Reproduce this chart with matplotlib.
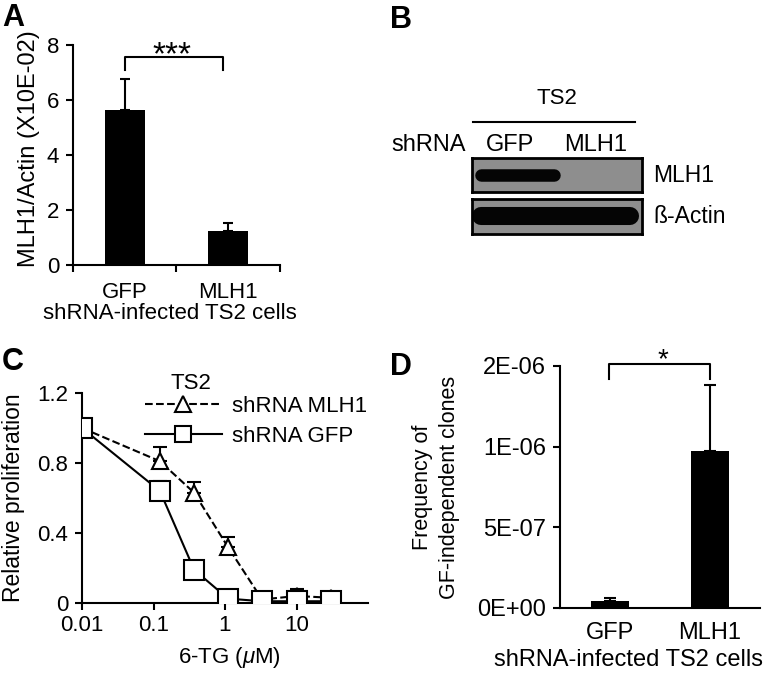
import numpy as np
import matplotlib
matplotlib.use("Agg")
import matplotlib.pyplot as plt
from matplotlib.lines import Line2D

plt.rcParams["font.family"] = ["Liberation Sans", "DejaVu Sans"]
plt.rcParams["mathtext.fontset"] = "custom"
plt.rcParams["mathtext.it"] = "Liberation Sans:italic"
plt.rcParams["mathtext.rm"] = "Liberation Sans"
plt.rcParams["axes.linewidth"] = 1.5
plt.rcParams["xtick.major.width"] = 1.5
plt.rcParams["ytick.major.width"] = 1.5
plt.rcParams["xtick.minor.width"] = 1.5

# ---- data ----
groups = ["GFP", "MLH1"]
a_ratio = [5.65, 1.25]          # MLH1/Actin (x10E-02)
a_err = [1.1, 0.28]

blot_lanes = ["GFP", "MLH1"]
blot_proteins = ["MLH1", "ß-Actin"]
blot_signal = [[1, 0], [1, 1]]   # band present per protein x lane

c_dose = [0.01, 0.123, 0.37, 1.1, 3.3, 10, 30]
c_mlh1 = [1.0, 0.81, 0.63, 0.32, 0.02, 0.04, 0.03]
c_mlh1_err = [0, 0.08, 0.06, 0.06, 0, 0.04, 0.03]
c_gfp = [1.0, 0.64, 0.19, 0.025, 0.01, 0.01, 0.01]
c_gfp_err = [0, 0.06, 0, 0, 0, 0, 0]

d_freq = [4.5e-8, 9.75e-7]
d_err = [1.5e-8, 4.1e-7]
d_ticks = [0, 5e-7, 1e-6, 1.5e-6]
d_ticklabels = ["0E+00", "5E-07", "1E-06", "2E-06"]

W, H = 774, 673
fig = plt.figure(figsize=(W / 100, H / 100), dpi=100)

def px_axes(x0, y0, x1, y1):
    return fig.add_axes([x0 / W, 1 - y1 / H, (x1 - x0) / W, (y1 - y0) / H])

FS = 16

# ---- (A) ----
axa = px_axes(73, 45, 280, 265)
xpos = np.array([0.5, 1.5])
axa.bar(xpos, a_ratio, width=0.39, color="black", zorder=2)
axa.errorbar(xpos, a_ratio, yerr=[np.zeros(2), a_err], fmt="none",
             ecolor="black", elinewidth=1.5, capsize=3.5, capthick=1.5)
axa.set_xlim(0, 2)
axa.set_ylim(0, 8)
axa.set_yticks([0, 2, 4, 6, 8])
axa.set_xticks(xpos)
axa.set_xticklabels(groups)
axa.set_xticks([0, 1, 2], minor=True)
axa.tick_params(axis="x", which="major", length=0, pad=12, labelsize=16)
axa.tick_params(axis="x", which="minor", length=5, direction="out")
axa.tick_params(axis="y", length=5, pad=5, labelsize=16)
for s in ["top", "right"]:
    axa.spines[s].set_visible(False)
axa.set_ylabel("MLH1/Actin (X10E-02)", fontsize=17)
axa.yaxis.set_label_coords(-0.16, 0.53)
axa.set_xlabel("shRNA-infected TS2 cells", fontsize=16)
axa.xaxis.set_label_coords(0.47, -0.175)
axa.plot([0.5, 0.5, 1.45, 1.45], [7.1, 7.55, 7.55, 7.1], color="black", lw=1.5, clip_on=False)
axa.text(0.96, 7.3, "***", ha="center", va="baseline", fontsize=24)

# ---- (B) western blot ----
ov = fig.add_axes([0, 0, 1, 1], zorder=-1)
ov.set_xlim(0, W)
ov.set_ylim(H, 0)
ov.axis("off")
ov.text(557, 98, "TS2", ha="center", va="center", fontsize=16)
ov.plot([473, 635], [122, 122], color="black", lw=1.5)
ov.text(391, 145, "shRNA", ha="left", va="center", fontsize=17)
blot_boxes = [(472, 158, 642, 192), (472, 199, 642, 234)]
band_lw = [9, 13]
for k, prot in enumerate(blot_proteins):
    x0, y0, x1, y1 = blot_boxes[k]
    bx = px_axes(x0, y0, x1, y1)
    bx.set_facecolor("#8e8e8e")
    bx.set_xlim(0, 2)
    bx.set_ylim(0, 1)
    bx.set_xticks([])
    bx.set_yticks([])
    for s in bx.spines.values():
        s.set_linewidth(2)
    for i, on in enumerate(blot_signal[k]):
        if on:
            lo = max(i, 0.1)
            hi = min(i + 1, 1.86)
            if i == 0 and not blot_signal[k][1]:
                hi = 0.96
            bx.plot([lo, hi], [0.5, 0.5], color="#050505", lw=band_lw[k],
                    solid_capstyle="round")
    ov.text(653, (y0 + y1) / 2, prot, ha="left", va="center", fontsize=16.5)
    if k == 0:
        for i, lane in enumerate(blot_lanes):
            lx = x0 + (x1 - x0) * (i + 0.45) / 2
            ov.text(lx, 145, lane, ha="center", va="center", fontsize=17)

# ---- (C) ----
axc = px_axes(82, 393, 368, 603)
style = dict(color="black", lw=1.5, mec="black", mew=1.5, mfc="white")
axc.plot(c_dose, c_mlh1, ls="--", marker="^", ms=12, zorder=3, **style)
axc.plot(c_dose, c_gfp, ls="-", marker="s", ms=14, zorder=5, **style)
for yv, ev, z in [(c_mlh1, c_mlh1_err, 2), (c_gfp, c_gfp_err, 4)]:
    idx = [i for i, e in enumerate(ev) if e > 0]
    axc.errorbar([c_dose[i] for i in idx], [yv[i] for i in idx],
                 yerr=[[0] * len(idx), [ev[i] for i in idx]], fmt="none",
                 ecolor="black", elinewidth=1.5, capsize=5, capthick=1.5, zorder=z)
axc.set_xscale("log")
axc.set_xlim(0.01, 100)
axc.set_ylim(0, 1.2)
axc.set_yticks([0, 0.4, 0.8, 1.2])
axc.set_yticklabels(["0", "0.4", "0.8", "1.2"])
axc.set_xticks([0.01, 0.1, 1, 10])
axc.set_xticklabels(["0.01", "0.1", "1", "10"])
axc.xaxis.set_minor_locator(matplotlib.ticker.NullLocator())
axc.tick_params(axis="both", length=5, labelsize=FS)
axc.tick_params(axis="y", pad=5)
for s in ["top", "right"]:
    axc.spines[s].set_visible(False)
axc.set_ylabel("Relative proliferation", fontsize=16.5)
axc.yaxis.set_label_coords(-0.2, 0.5)
axc.set_xlabel("6-TG ($\\mu$M)", fontsize=FS)
axc.xaxis.set_label_coords(0.517, -0.2)
axc.text(0.38, 1.045, "TS2", transform=axc.transAxes, ha="center", va="center", fontsize=16)
handles = [
    Line2D([], [], ls="--", marker="^", ms=11, **style),
    Line2D([], [], ls="-", marker="s", ms=12, **style),
]
axc.legend(handles, ["shRNA MLH1", "shRNA GFP"], loc="upper left",
           bbox_to_anchor=(0.22, 0.985), frameon=False, fontsize=16,
           handlelength=3.45, handletextpad=0.45, labelspacing=0.4,
           borderaxespad=0, borderpad=0)

# ---- (D) ----
axd = px_axes(560, 366, 760, 608)
axd.bar(xpos, d_freq, width=0.38, color="black", zorder=2)
axd.errorbar(xpos, d_freq, yerr=[np.zeros(2), d_err], fmt="none",
             ecolor="black", elinewidth=1.5, capsize=4, capthick=1.5)
axd.set_xlim(0, 2)
axd.set_ylim(0, 1.5e-6)
axd.set_yticks(d_ticks)
axd.set_yticklabels(d_ticklabels)
axd.set_xticks(xpos)
axd.set_xticklabels(groups)
axd.tick_params(axis="x", length=0, pad=10, labelsize=17)
axd.tick_params(axis="y", length=5, pad=5, labelsize=17)
for s in ["top", "right"]:
    axd.spines[s].set_visible(False)
axd.set_ylabel("Frequency of\nGF-independent clones", fontsize=15.5, linespacing=1.35)
axd.yaxis.set_label_coords(-0.5, 0.5)
axd.set_xlabel("shRNA-infected TS2 cells", fontsize=17)
axd.xaxis.set_label_coords(0.345, -0.17)
axd.plot([0.49, 0.49, 1.5, 1.5], [1.42e-6, 1.51e-6, 1.51e-6, 1.42e-6],
         color="black", lw=1.5, clip_on=False)
axd.text(1.03, 1.49e-6, "*", ha="center", va="baseline", fontsize=20)

# ---- panel letters ----
for lab, x, y in [("A", 2, 3), ("B", 390, 5), ("C", 2, 347), ("D", 390, 352)]:
    fig.text(x / W, 1 - y / H, lab, ha="left", va="top", fontsize=22, fontweight="bold")

fig.savefig("out.png", dpi=100)
